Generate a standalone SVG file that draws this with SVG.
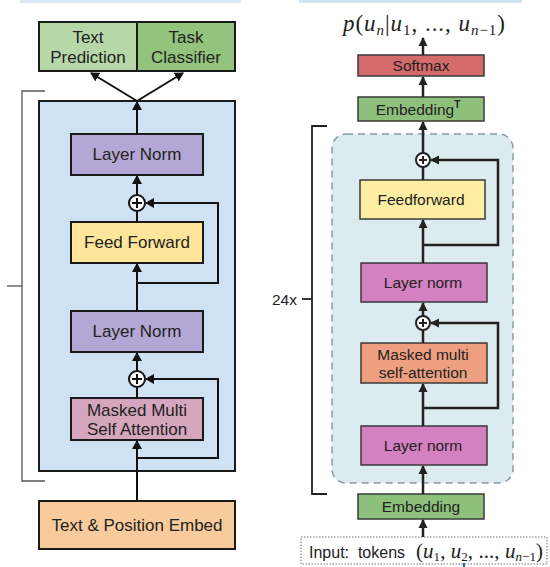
<svg xmlns="http://www.w3.org/2000/svg" width="550" height="567" viewBox="0 0 550 567">
<defs>
<marker id="ah" markerWidth="10" markerHeight="10" refX="8" refY="5" orient="auto" markerUnits="userSpaceOnUse">
<path d="M0,0 L9,5 L0,10 Z" fill="#111"/>
</marker>
<marker id="ah2" markerWidth="10" markerHeight="10" refX="8" refY="5" orient="auto" markerUnits="userSpaceOnUse">
<path d="M0,0.5 L9,5 L0,9.5 Z" fill="#222"/>
</marker>
</defs>
<style>
.lbox{stroke:#1a1a1a;stroke-width:2}
.rbox{stroke:#3a3a3a;stroke-width:1.5}
.lt{font-family:"Liberation Sans",Arial,sans-serif;font-size:17px;fill:#222;text-anchor:middle}
.rt{font-family:"Liberation Sans",Arial,sans-serif;font-size:15.5px;fill:#222;text-anchor:middle}
.lc{fill:none;stroke:#111;stroke-width:2}
.rc{fill:none;stroke:#222;stroke-width:2.5}
.math{font-family:"Liberation Serif","DejaVu Serif",serif;font-style:italic;fill:#222}
</style>
<rect width="550" height="567" fill="#fff"/>
<rect x="20" y="0" width="221" height="3" fill="#dbe8f4"/>
<rect x="299" y="0" width="223" height="3" fill="#cde7f1"/>

<!-- Left diagram -->
<g id="left-bracket" fill="none" stroke="#555" stroke-width="1.3">
<path d="M45,91 H22 V481 H45"/>
<path d="M7,286 H22"/>
</g>
<g id="left-block"><rect x="39" y="101" width="196" height="370" fill="#cfe2f3" class="lbox"/></g>
<g id="text-prediction"><rect x="39" y="22" width="98" height="49" fill="#b6d7a8" class="lbox"/>
<text class="lt" x="88" y="43">Text</text><text class="lt" x="88" y="63">Prediction</text></g>
<g id="task-classifier"><rect x="137" y="22" width="98" height="49" fill="#93c47d" class="lbox"/>
<text class="lt" x="186" y="43">Task</text><text class="lt" x="186" y="63">Classifier</text></g>
<g id="layer-norm-top"><rect x="71" y="134" width="132" height="41" fill="#b4a7d6" class="lbox"/>
<text class="lt" x="137" y="160">Layer Norm</text></g>
<g id="feed-forward"><rect x="71" y="222" width="132" height="41" fill="#ffe599" class="lbox"/>
<text class="lt" x="137" y="248">Feed Forward</text></g>
<g id="layer-norm-mid"><rect x="71" y="311" width="132" height="41" fill="#b4a7d6" class="lbox"/>
<text class="lt" x="137" y="337">Layer Norm</text></g>
<g id="masked-multi"><rect x="71" y="398" width="132" height="42" fill="#d5a6bd" class="lbox"/>
<text class="lt" x="137" y="416">Masked Multi</text><text class="lt" x="137" y="435">Self Attention</text></g>
<g id="text-position-embed"><rect x="39" y="501" width="196" height="48" fill="#f9cb9c" class="lbox"/>
<text class="lt" x="137" y="531">Text &amp; Position Embed</text></g>
<g id="add-left-1"><circle cx="137" cy="203" r="8" fill="#fff" stroke="#111" stroke-width="2"/><path d="M132,203 H142 M137,198 V208" stroke="#111" stroke-width="2"/></g>
<g id="add-left-2"><circle cx="137" cy="379" r="8" fill="#fff" stroke="#111" stroke-width="2"/><path d="M132,379 H142 M137,374 V384" stroke="#111" stroke-width="2"/></g>

<g id="left-connectors">
<path class="lc" d="M137,501 V441" marker-end="url(#ah)"/>
<path class="lc" d="M137,458 H218 V379 H146" marker-end="url(#ah)"/>
<path class="lc" d="M137,398 V387"/>
<path class="lc" d="M137,371 V353" marker-end="url(#ah)"/>
<path class="lc" d="M137,311 V264" marker-end="url(#ah)"/>
<path class="lc" d="M137,283 H218 V203 H146" marker-end="url(#ah)"/>
<path class="lc" d="M137,222 V211"/>
<path class="lc" d="M137,195 V176" marker-end="url(#ah)"/>
<path class="lc" d="M137,134 V102" marker-end="url(#ah)"/>
<path class="lc" d="M137,101 L91,73" marker-end="url(#ah)"/>
<path class="lc" d="M137,101 L183,73" marker-end="url(#ah)"/>
</g>

<!-- Right diagram -->
<text class="math" x="343" y="31" font-size="23" textLength="162" lengthAdjust="spacing">p<tspan font-style="normal">(</tspan>u<tspan font-size="15" dy="4">n</tspan><tspan dy="-4" font-style="normal">|</tspan>u<tspan font-size="15" dy="4" font-style="normal">1</tspan><tspan dy="-4" font-style="normal">, ..., </tspan>u<tspan font-size="15" dy="4">n</tspan><tspan font-size="15" font-style="normal">−1</tspan><tspan dy="-4" font-style="normal">)</tspan></text>
<g id="right-bracket" fill="none" stroke="#222" stroke-width="1.8">
<path d="M327,126 H312 V494 H327"/>
<path d="M302,299 H312"/>
</g>
<text x="272" y="305" font-family="'Liberation Sans',Arial,sans-serif" font-size="15.5" fill="#222">24x</text>
<g id="right-block"><rect x="332" y="134" width="181" height="349" rx="14" fill="#dcebf0" stroke="#8c9aa2" stroke-width="1.5" stroke-dasharray="7,5"/></g>
<g id="softmax"><rect x="358" y="55" width="126" height="21" fill="#d56a6a" class="rbox"/>
<text class="rt" x="421" y="71">Softmax</text></g>
<g id="embedding-t"><rect x="358" y="97" width="126" height="24" fill="#8dc07a" class="rbox"/>
<text class="rt" x="418" y="115">Embedding<tspan font-size="10" dy="-7" font-weight="bold">T</tspan></text></g>
<g id="feedforward"><rect x="360" y="180" width="125" height="39" fill="#fdeea3" class="rbox"/>
<text class="rt" x="421" y="205">Feedforward</text></g>
<g id="layer-norm-r1"><rect x="361" y="263" width="126" height="39" fill="#d580c0" class="rbox"/>
<text class="rt" x="423" y="288">Layer norm</text></g>
<g id="masked-self-attention"><rect x="361" y="343" width="126" height="40" fill="#ee9f80" class="rbox"/>
<text class="rt" x="423" y="360">Masked multi</text><text class="rt" x="423" y="378">self-attention</text></g>
<g id="layer-norm-r2"><rect x="361" y="426" width="126" height="39" fill="#d580c0" class="rbox"/>
<text class="rt" x="423" y="451">Layer norm</text></g>
<g id="embedding"><rect x="358" y="494" width="126" height="25" fill="#8dc07a" class="rbox"/>
<text class="rt" x="421" y="512">Embedding</text></g>
<g id="input"><rect x="301" y="537" width="246" height="27" fill="#fff" stroke="#777" stroke-width="1" stroke-dasharray="1.5,1.5"/>
<text x="309" y="558" font-family="'Liberation Sans',Arial,sans-serif" font-size="16" fill="#222" xml:space="preserve">Input:  tokens </text>
<text class="math" x="416" y="558" font-size="21" textLength="127" lengthAdjust="spacing"><tspan font-style="normal">(</tspan>u<tspan font-size="13" dy="3" font-style="normal">1</tspan><tspan dy="-3" font-style="normal">, </tspan>u<tspan font-size="13" dy="3" font-style="normal">2</tspan><tspan dy="-3" font-style="normal">, ..., </tspan>u<tspan font-size="13" dy="3">n</tspan><tspan font-size="13" font-style="normal">−1</tspan><tspan dy="-3" font-style="normal">)</tspan></text></g>
<g id="add-right-1"><circle cx="423" cy="160" r="7" fill="#fff" stroke="#222" stroke-width="2"/><path d="M419,160 H427 M423,156 V164" stroke="#222" stroke-width="2"/></g>
<g id="add-right-2"><circle cx="423" cy="323" r="7" fill="#fff" stroke="#222" stroke-width="2"/><path d="M419,323 H427 M423,319 V327" stroke="#222" stroke-width="2"/></g>

<g id="right-connectors">
<path class="rc" d="M423,537 V520" marker-end="url(#ah2)"/>
<path class="rc" d="M423,494 V466" marker-end="url(#ah2)"/>
<path class="rc" d="M423,426 V384" marker-end="url(#ah2)"/>
<path class="rc" d="M423,408 H498 V323 H431" marker-end="url(#ah2)"/>
<path class="rc" d="M423,343 V330"/>
<path class="rc" d="M423,316 V303" marker-end="url(#ah2)"/>
<path class="rc" d="M423,263 V220" marker-end="url(#ah2)"/>
<path class="rc" d="M423,245 H498 V160 H431" marker-end="url(#ah2)"/>
<path class="rc" d="M423,180 V167"/>
<path class="rc" d="M423,153 V122" marker-end="url(#ah2)"/>
<path class="rc" d="M423,97 V77" marker-end="url(#ah2)"/>
<path class="rc" d="M423,55 V38" marker-end="url(#ah2)"/>
</g>
<path d="M464,563 V567" stroke="#2a5cc8" stroke-width="2"/>
</svg>
